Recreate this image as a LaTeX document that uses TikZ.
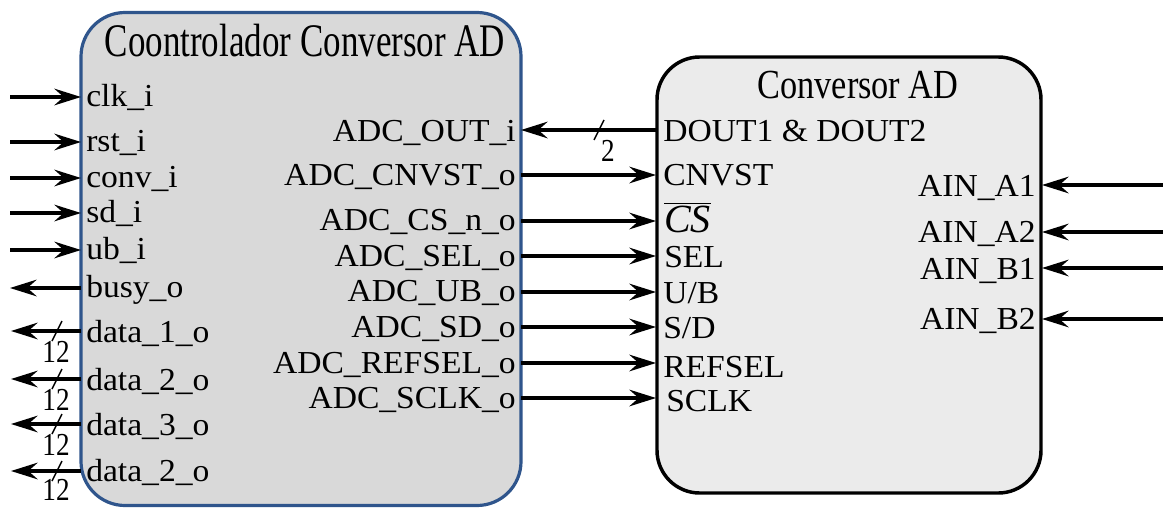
\documentclass[tikz,border=0pt]{standalone}
\usepackage{fontspec}
\setmainfont{Liberation Serif}
\usepackage{graphicx}
\usetikzlibrary{arrows.meta}

\definecolor{ctrlblue}{RGB}{47,85,140}
\definecolor{ctrlfill}{RGB}{217,217,217}
\definecolor{adcfill}{RGB}{235,235,235}

% horizontally widened label text
\newcommand{\wlab}[1]{\scalebox{1.05}[1]{#1}}

\begin{document}
\begin{tikzpicture}[x=0.75pt,y=-0.75pt,
  sig/.style={line width=2.3pt,-{Stealth[length=20pt,width=12.5pt,inset=7pt]}},
  bus/.style={line width=1.1pt},
  port/.style={inner sep=0pt,font=\fontsize{24pt}{24pt}\selectfont},
  busw/.style={inner sep=0pt,font=\fontsize{24pt}{24pt}\selectfont},
  ctrlbox/.style={draw=ctrlblue,fill=ctrlfill,line width=2.4pt,rounded corners=33pt,
    minimum width=330pt,minimum height=369.75pt,inner sep=0pt},
  adcbox/.style={draw=black,fill=adcfill,line width=2.6pt,rounded corners=32pt,
    minimum width=288pt,minimum height=327pt,inner sep=0pt}]
\useasboundingbox (0,0) rectangle (1163,507);

% blocks
\node[ctrlbox] (ctrl) at (301,259) {};
\node[adcbox] (adc) at (849,275) {};

\node[inner sep=0pt,anchor=base,font=\fontsize{35pt}{35pt}\selectfont] (ctrltitle) at (305,56)
  {\scalebox{0.75}[1]{Coontrolador Conversor AD}};
\node[inner sep=0pt,anchor=base,font=\fontsize{31pt}{31pt}\selectfont] (adctitle) at (858,98)
  {\scalebox{0.83}[1]{Conversor AD}};

% controller inputs
\foreach \n/\t/\y/\b in {clk/clk\_i/97/106, rst/rst\_i/142/151, conv/conv\_i/178/187,
                         sd/sd\_i/213/222, ub/ub\_i/250/259}{
  \coordinate (s-\n) at (10,\y);
  \coordinate (c-\n) at (81,\y);
  \node[port,anchor=base west] (l-\n) at (86,\b) {\wlab{\t}};
  \draw[sig] (s-\n) -- (c-\n);
}
% controller outputs on the left
\coordinate (s-busy) at (10,288);
\coordinate (c-busy) at (81,288);
\node[port,anchor=base west] (l-busy) at (86,297) {\wlab{busy\_o}};
\draw[sig] (c-busy) -- (s-busy);

% 12-bit data outputs: line, bus slash and width label
\foreach \n/\t/\y/\b/\w in {d1/data\_1\_o/331/342/352, d2/data\_2\_o/379/390/400,
                            d3/data\_3\_o/424/435/445, d4/data\_2\_o/471/481/490}{
  \coordinate (s-\n) at (11,\y);
  \coordinate (c-\n) at (81,\y);
  \node[port,anchor=base west] (l-\n) at (86,\b) {\wlab{\t}};
  \draw[sig] (c-\n) -- (s-\n);
  \coordinate (k-\n) at (57,\y);
  \draw[bus] ([shift={(-5,10)}]k-\n) -- ([shift={(5,-10)}]k-\n);
  \node[busw] (w-\n) at (56,\w) {\scalebox{0.85}[1]{12}};
}

% controller outputs towards the converter
\foreach \n/\t/\y/\b in {out/ADC\_OUT\_i/130/141, cnv/ADC\_CNVST\_o/175/185,
                         cs/ADC\_CS\_n\_o/221/230, sel/ADC\_SEL\_o/256/266,
                         ub/ADC\_UB\_o/292/301, sd/ADC\_SD\_o/327/337,
                         ref/ADC\_REFSEL\_o/363/373, sclk/ADC\_SCLK\_o/398/408}{
  \coordinate (o-\n) at (521,\y);
  \coordinate (a-\n) at (656,\y);
  \node[port,anchor=base east] (r-\n) at (516,\b) {\wlab{\t}};
}

% converter input labels
\node[port,anchor=base west] (i-out) at (663,141) {\wlab{DOUT1 \& DOUT2}};
\node[port,anchor=base west] (i-cnv) at (663,185) {\wlab{CNVST}};
\node[port,anchor=base west] (i-cs) at (664,232)
  {$\overline{\mbox{\scalebox{1.25}{\itshape CS}}}$};
\node[port,anchor=base west] (i-sel) at (664,267) {\wlab{SEL}};
\node[port,anchor=base west] (i-ub) at (663,303) {\wlab{U/B}};
\node[port,anchor=base west] (i-sd) at (663,338) {\wlab{S/D}};
\node[port,anchor=base west] (i-ref) at (663,377) {\wlab{REFSEL}};
\node[port,anchor=base west] (i-sclk) at (666,411) {\wlab{SCLK}};

% data bus back to the controller
\draw[sig] (a-out) -- (o-out);
\coordinate (k-out) at (599,130);
\draw[bus] ([shift={(-5,10)}]k-out) -- ([shift={(5,-10)}]k-out);
\node[busw] (w-out) at (608,151) {\scalebox{0.85}[1]{2}};

\foreach \n in {cnv,cs,sel,ub,sd,ref,sclk}{
  \draw[sig] (o-\n) -- (a-\n);
}

% analog inputs
\foreach \n/\t/\y/\b in {a1/AIN\_A1/185/196, a2/AIN\_A2/232/242,
                         b1/AIN\_B1/268/279, b2/AIN\_B2/319/329}{
  \coordinate (e-\n) at (1163,\y);
  \coordinate (p-\n) at (1042,\y);
  \node[port,anchor=base east] (n-\n) at (1036,\b) {\wlab{\t}};
  \draw[sig] (e-\n) -- (p-\n);
}
\end{tikzpicture}
\end{document}
